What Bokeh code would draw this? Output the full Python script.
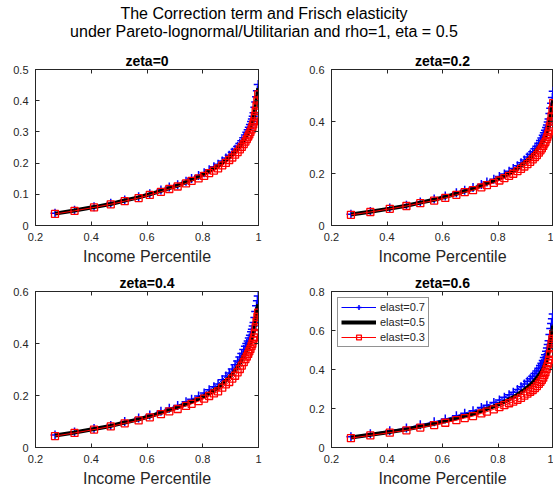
from bokeh.plotting import figure
from bokeh.layouts import column, row
from bokeh.models import (Div, LinearAxis, FixedTicker, CustomJSTickFormatter,
                          Range1d, Legend, LegendItem)
from bokeh.embed import file_html
from bokeh.resources import INLINE

# ---------------- data ----------------
income_pct = [0.27, 0.34, 0.41, 0.47, 0.52, 0.57, 0.61, 0.65, 0.68, 0.71,
              0.74, 0.76, 0.785, 0.805, 0.823, 0.84, 0.855, 0.87, 0.883, 0.895,
              0.906, 0.916, 0.925, 0.933, 0.94, 0.947, 0.953, 0.958, 0.963, 0.967,
              0.971, 0.975, 0.978, 0.981, 0.984, 0.987, 0.990, 0.993, 0.996, 0.999]

z00_e07 = [0.039, 0.049, 0.060, 0.071, 0.082, 0.092, 0.102, 0.114, 0.123, 0.131,
           0.142, 0.151, 0.160, 0.169, 0.179, 0.188, 0.196, 0.207, 0.216, 0.225,
           0.235, 0.244, 0.253, 0.263, 0.272, 0.281, 0.290, 0.299, 0.307, 0.315,
           0.324, 0.333, 0.341, 0.350, 0.361, 0.379, 0.396, 0.413, 0.432, 0.452]
z00_e05 = [0.038, 0.048, 0.059, 0.069, 0.080, 0.090, 0.100, 0.111, 0.120, 0.128,
           0.139, 0.147, 0.156, 0.165, 0.174, 0.183, 0.191, 0.201, 0.210, 0.219,
           0.228, 0.237, 0.246, 0.255, 0.264, 0.273, 0.282, 0.290, 0.298, 0.306,
           0.314, 0.323, 0.331, 0.340, 0.350, 0.368, 0.385, 0.402, 0.420, 0.440]
z00_e03 = [0.037, 0.047, 0.058, 0.068, 0.078, 0.088, 0.098, 0.108, 0.117, 0.125,
           0.135, 0.143, 0.151, 0.159, 0.168, 0.176, 0.183, 0.193, 0.201, 0.210,
           0.218, 0.227, 0.235, 0.244, 0.252, 0.261, 0.269, 0.277, 0.285, 0.292,
           0.300, 0.308, 0.316, 0.324, 0.334, 0.351, 0.367, 0.384, 0.401, 0.420]

z02_e07 = [0.043, 0.054, 0.067, 0.078, 0.090, 0.102, 0.113, 0.126, 0.136, 0.146,
           0.158, 0.167, 0.178, 0.188, 0.198, 0.209, 0.219, 0.230, 0.241, 0.252,
           0.263, 0.274, 0.284, 0.295, 0.305, 0.316, 0.327, 0.337, 0.347, 0.357,
           0.366, 0.377, 0.387, 0.398, 0.410, 0.431, 0.451, 0.470, 0.492, 0.516]
z02_e05 = [0.042, 0.053, 0.065, 0.076, 0.088, 0.099, 0.110, 0.122, 0.132, 0.141,
           0.153, 0.162, 0.172, 0.182, 0.191, 0.201, 0.210, 0.221, 0.231, 0.241,
           0.251, 0.261, 0.271, 0.281, 0.290, 0.300, 0.310, 0.319, 0.328, 0.337,
           0.345, 0.355, 0.364, 0.374, 0.385, 0.405, 0.424, 0.442, 0.462, 0.484]
z02_e03 = [0.041, 0.052, 0.064, 0.075, 0.086, 0.096, 0.106, 0.118, 0.128, 0.136,
           0.147, 0.155, 0.164, 0.173, 0.182, 0.191, 0.199, 0.209, 0.218, 0.227,
           0.236, 0.245, 0.254, 0.263, 0.271, 0.280, 0.289, 0.297, 0.306, 0.315,
           0.322, 0.332, 0.341, 0.351, 0.362, 0.381, 0.400, 0.420, 0.444, 0.471]

z04_e07 = [0.048, 0.060, 0.073, 0.085, 0.100, 0.113, 0.125, 0.139, 0.151, 0.162,
           0.176, 0.186, 0.198, 0.210, 0.222, 0.234, 0.244, 0.261, 0.275, 0.287,
           0.302, 0.318, 0.333, 0.348, 0.362, 0.377, 0.389, 0.400, 0.410, 0.421,
           0.432, 0.445, 0.455, 0.467, 0.481, 0.500, 0.523, 0.545, 0.564, 0.583]
z04_e05 = [0.046, 0.058, 0.071, 0.083, 0.096, 0.108, 0.120, 0.133, 0.144, 0.154,
           0.167, 0.176, 0.187, 0.198, 0.209, 0.220, 0.229, 0.245, 0.258, 0.269,
           0.283, 0.296, 0.310, 0.324, 0.338, 0.352, 0.364, 0.374, 0.384, 0.395,
           0.405, 0.417, 0.427, 0.439, 0.452, 0.471, 0.493, 0.515, 0.533, 0.551]
z04_e03 = [0.044, 0.056, 0.069, 0.081, 0.093, 0.104, 0.116, 0.128, 0.139, 0.148,
           0.160, 0.168, 0.178, 0.188, 0.198, 0.208, 0.216, 0.230, 0.243, 0.252,
           0.265, 0.276, 0.289, 0.302, 0.315, 0.328, 0.340, 0.350, 0.360, 0.370,
           0.379, 0.390, 0.399, 0.411, 0.423, 0.441, 0.463, 0.484, 0.502, 0.519]

z06_e07 = [0.055, 0.070, 0.086, 0.100, 0.117, 0.132, 0.146, 0.163, 0.176, 0.189,
           0.205, 0.217, 0.231, 0.244, 0.258, 0.271, 0.283, 0.298, 0.312, 0.326,
           0.340, 0.353, 0.366, 0.379, 0.392, 0.406, 0.420, 0.432, 0.446, 0.461,
           0.476, 0.494, 0.510, 0.528, 0.548, 0.579, 0.610, 0.636, 0.660, 0.684]
z06_e05 = [0.051, 0.065, 0.080, 0.093, 0.108, 0.122, 0.135, 0.150, 0.162, 0.173,
           0.188, 0.198, 0.211, 0.223, 0.235, 0.247, 0.258, 0.271, 0.284, 0.296,
           0.308, 0.320, 0.332, 0.344, 0.356, 0.369, 0.381, 0.392, 0.405, 0.419,
           0.433, 0.449, 0.463, 0.479, 0.497, 0.526, 0.555, 0.579, 0.601, 0.624]
z06_e03 = [0.048, 0.062, 0.076, 0.088, 0.102, 0.115, 0.127, 0.140, 0.151, 0.161,
           0.175, 0.184, 0.196, 0.207, 0.217, 0.227, 0.235, 0.245, 0.255, 0.266,
           0.276, 0.286, 0.295, 0.305, 0.315, 0.326, 0.337, 0.347, 0.358, 0.372,
           0.386, 0.402, 0.416, 0.432, 0.450, 0.479, 0.508, 0.533, 0.557, 0.582]

panel_titles = ["zeta=0", "zeta=0.2", "zeta=0.4", "zeta=0.6"]
panel_series = [[z00_e07, z00_e05, z00_e03],
                [z02_e07, z02_e05, z02_e03],
                [z04_e07, z04_e05, z04_e03],
                [z06_e07, z06_e05, z06_e03]]
y_max = [0.5, 0.6, 0.6, 0.8]
y_ticks = [[0, 0.1, 0.2, 0.3, 0.4, 0.5],
           [0, 0.2, 0.4, 0.6],
           [0, 0.2, 0.4, 0.6],
           [0, 0.2, 0.4, 0.6, 0.8]]
x_ticks = [0.2, 0.4, 0.6, 0.8, 1.0]
series_labels = ["elast=0.7", "elast=0.5", "elast=0.3"]
x_label = "Income Percentile"
main_title = ["The Correction term and Frisch elasticity",
              "under Pareto-lognormal/Utilitarian and rho=1, eta = 0.5"]

# ---------------- styling ----------------
FONT = "Liberation Sans"
AX = "#262626"
fmt_code = "return (Math.round(tick*10)/10).toString();"


def style_axis(ax, ticks, show_labels):
    ax.ticker = FixedTicker(ticks=ticks)
    ax.major_tick_in = 4
    ax.major_tick_out = 0
    ax.minor_tick_line_color = None
    ax.axis_line_color = AX
    ax.major_tick_line_color = AX
    ax.major_label_text_color = AX
    ax.major_label_text_font = FONT
    if show_labels:
        ax.formatter = CustomJSTickFormatter(code=fmt_code)
        ax.major_label_text_font_size = "11px"
    else:
        ax.formatter = CustomJSTickFormatter(code="return '';")
        ax.major_label_text_font_size = "0px"
        ax.major_label_standoff = 0


def make_panel(i, left_b, right_b, top_b, bottom_b, fw, with_legend=False):
    p = figure(frame_width=fw, frame_height=156,
               min_border_left=left_b, min_border_right=right_b,
               min_border_top=top_b, min_border_bottom=bottom_b,
               x_range=Range1d(0.2, 1.0), y_range=Range1d(0, y_max[i]),
               output_backend="svg", toolbar_location=None, tools="")
    p.grid.visible = False
    p.outline_line_color = AX
    p.background_fill_color = "white"
    p.border_fill_color = "white"

    xa = p.xaxis[0]
    style_axis(xa, x_ticks, True)
    xa.major_label_standoff = 7
    xa.axis_label = x_label
    xa.axis_label_text_font = FONT
    xa.axis_label_text_font_size = "16px"
    xa.axis_label_text_font_style = "normal"
    xa.axis_label_text_color = AX
    xa.axis_label_standoff = 4

    ya = p.yaxis[0]
    style_axis(ya, y_ticks[i], True)
    ya.major_label_standoff = 7

    top = LinearAxis()
    style_axis(top, x_ticks, False)
    top.axis_label = panel_titles[i]
    top.axis_label_text_font = FONT
    top.axis_label_text_font_size = "14px"
    top.axis_label_text_font_style = "bold"
    top.axis_label_text_color = "black"
    top.axis_label_standoff = 1
    p.add_layout(top, "above")

    rt = LinearAxis()
    style_axis(rt, y_ticks[i], False)
    p.add_layout(rt, "right")

    s07, s05, s03 = panel_series[i]
    l1 = p.line(income_pct, s07, line_color="#0000FF", line_width=1)
    m1 = p.scatter(income_pct, s07, marker="cross", size=9,
                   line_color="#0000FF", line_width=1.5)
    l2 = p.line(income_pct, s05, line_color="black", line_width=4)
    l3 = p.line(income_pct, s03, line_color="#FF0000", line_width=1)
    m3 = p.scatter(income_pct, s03, marker="square", size=7,
                   line_color="#FF0000", fill_color=None, line_width=1.3)

    if with_legend:
        leg = Legend(items=[LegendItem(label=series_labels[0], renderers=[l1, m1]),
                            LegendItem(label=series_labels[1], renderers=[l2]),
                            LegendItem(label=series_labels[2], renderers=[l3, m3])],
                     location="top_left")
        leg.label_text_font = FONT
        leg.label_text_font_size = "11px"
        leg.label_text_color = AX
        leg.glyph_width = 35
        leg.glyph_height = 12
        leg.label_height = 12
        leg.spacing = 3
        leg.padding = 3
        leg.margin = 6
        leg.label_standoff = 4
        leg.border_line_color = AX
        leg.border_line_width = 1
        leg.background_fill_color = "white"
        leg.background_fill_alpha = 1
        p.add_layout(leg, "center")
    return p


p1 = make_panel(0, 35, 10, 27, 45, 223)
p2 = make_panel(1, 63, 0, 27, 45, 222)
p3 = make_panel(2, 35, 10, 21, 48, 223)
p4 = make_panel(3, 63, 0, 21, 48, 222, with_legend=True)

title_div = Div(
    text=('<div style="font-family:\'Liberation Sans\'; font-size:16px; line-height:18px; '
          'color:#000; text-align:center; width:528px; padding-top:5px;">'
          + main_title[0] + '<br>' + main_title[1] + '</div>'),
    width=553, height=42, margin=(0, 0, 0, 0))

layout = column(title_div, row(p1, p2), row(p3, p4))

with open("out.html", "w") as f:
    f.write(file_html(layout, INLINE))
